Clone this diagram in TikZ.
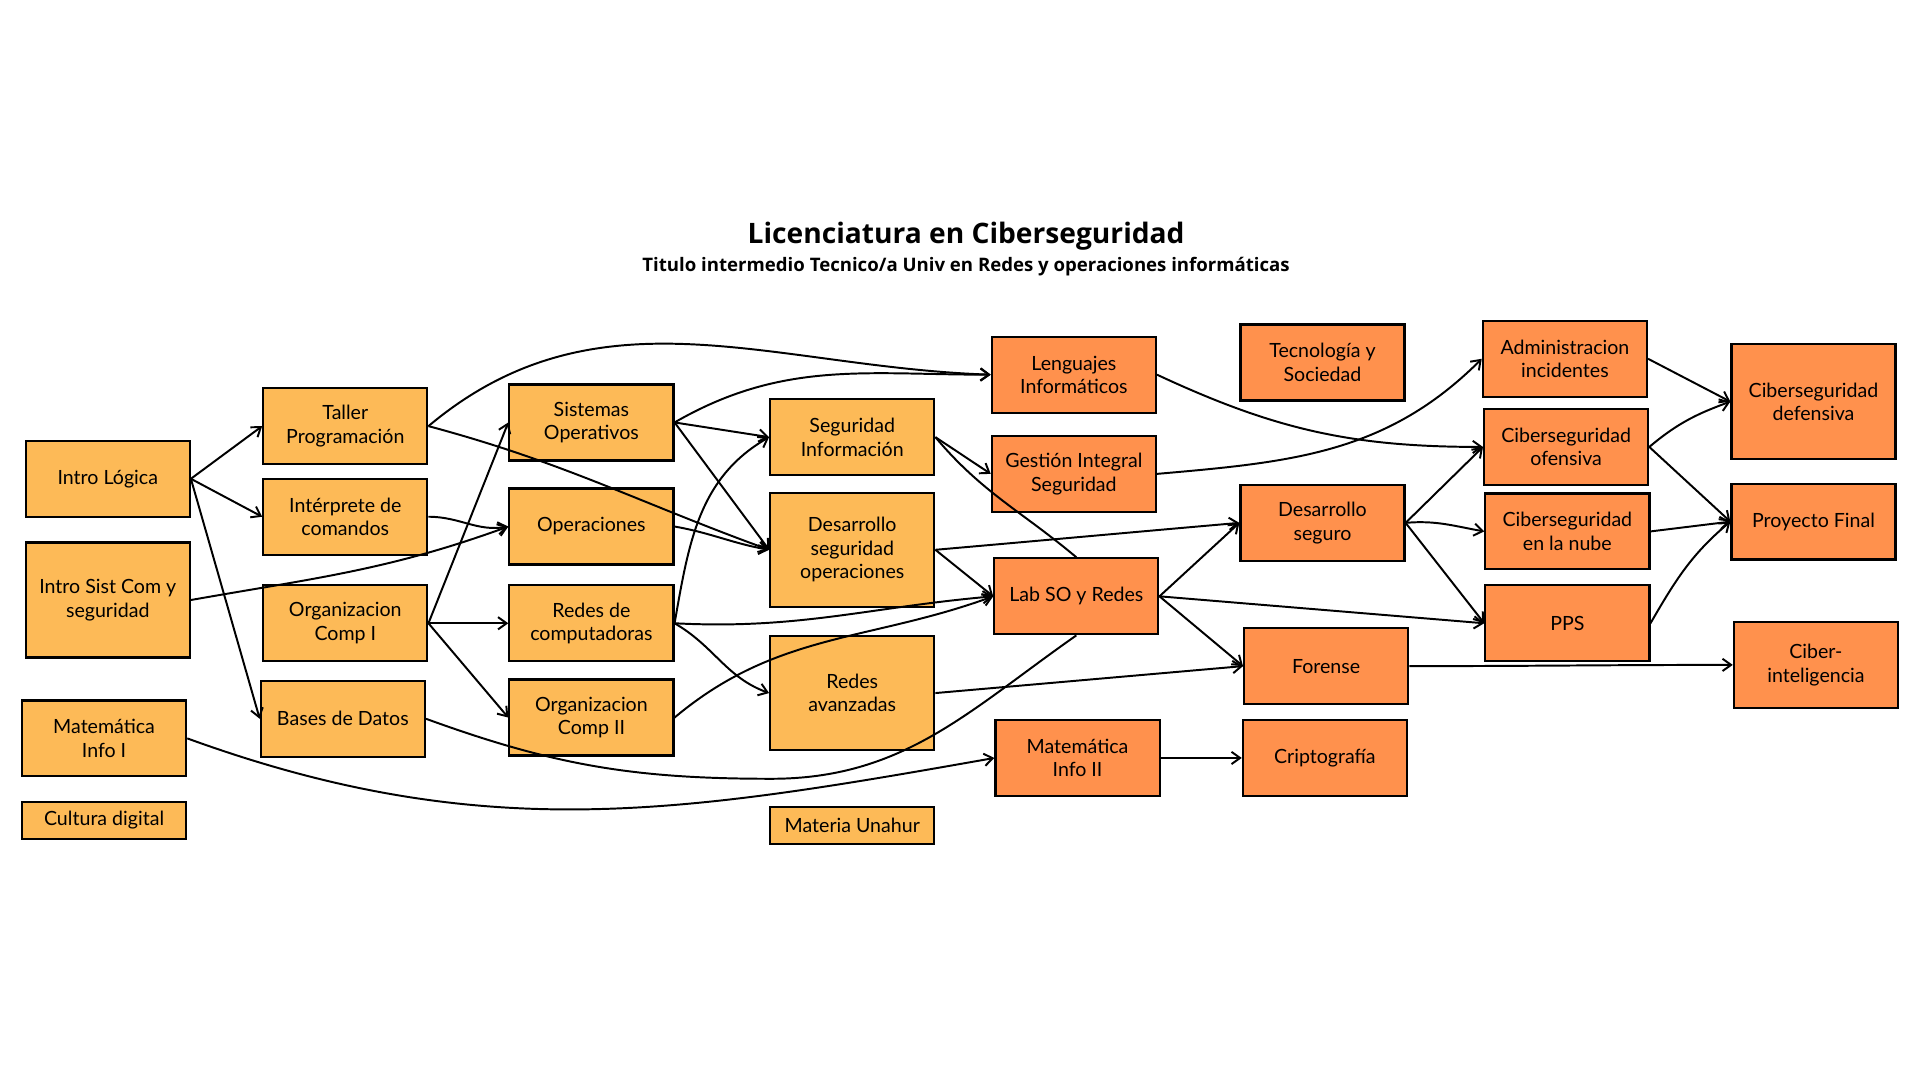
\documentclass[tikz,border=0pt]{standalone}
\usepackage{fontspec}
\setmainfont{Lato}
\newfontfamily\titlefont{Open Sans}
\usetikzlibrary{arrows.meta}
\definecolor{yel}{HTML}{FDBA57}
\definecolor{ora}{HTML}{FF914D}
\begin{document}
\begin{tikzpicture}[x=0.5pt,y=-0.5pt,
  bx/.style={draw=black,line width=0.9pt,align=center,inner sep=1pt,minimum width=67pt,minimum height=31pt,font=\fontsize{8}{9.6}\selectfont},
  yb/.style={bx,fill=yel},
  ob/.style={bx,fill=ora},
  ar/.style={-{Straight Barb[length=3.5pt,width=5pt]},line width=0.8pt},
  ln/.style={line width=0.8pt}]
\fill[white] (0,0) rectangle (1568,882);
\node[font=\titlefont\bfseries\fontsize{11.5}{13}\selectfont] (t1) at (789,193) {Licenciatura en Ciberseguridad};
\node[font=\titlefont\bfseries\fontsize{7.6}{9}\selectfont] (t2) at (789,218) {Titulo intermedio Tecnico/a Univ en Redes y operaciones informáticas};
% column 1
\node[yb] (il) at (88,391) {Intro Lógica};
\node[yb,minimum height=47pt] (isc) at (88,490) {Intro Sist Com y\\seguridad};
\node[yb] (m1) at (85,603) {Matemática\\Info I};
\node[yb,minimum height=15pt] (cd) at (85,670) {Cultura digital};
% column 2
\node[yb] (tp) at (282,348) {Taller\\Programación};
\node[yb] (ic) at (282,422) {Intérprete de\\comandos};
\node[yb] (oc1) at (282,509) {Organizacion\\Comp I};
\node[yb] (bd) at (280,587) {Bases de Datos};
% column 3
\node[yb] (so) at (483,345) {Sistemas\\Operativos};
\node[yb] (op) at (483,430) {Operaciones};
\node[yb] (rc) at (483,509) {Redes de\\computadoras};
\node[yb] (oc2) at (483,586) {Organizacion\\Comp II};
% column 4
\node[yb] (si) at (696,357) {Seguridad\\Información};
\node[yb,minimum height=46.5pt] (dso) at (696,449) {Desarrollo\\seguridad\\operaciones};
\node[yb,minimum height=46.5pt] (ra) at (696,566) {Redes\\avanzadas};
\node[yb,minimum height=15pt] (mu) at (696,674) {Materia Unahur};
% column 5
\node[ob] (li) at (877,306) {Lenguajes\\Informáticos};
\node[ob] (gi) at (877,387) {Gestión Integral\\Seguridad};
\node[ob] (lab) at (879,487) {Lab SO y Redes};
\node[ob] (m2) at (880,619) {Matemática\\Info II};
% column 6
\node[ob] (ts) at (1080,296) {Tecnología y\\Sociedad};
\node[ob] (ds) at (1080,427) {Desarrollo\\seguro};
\node[ob] (fo) at (1083,544) {Forense};
\node[ob] (cr) at (1082,619) {Criptografía};
% column 7
\node[ob] (ai) at (1278,293) {Administracion\\incidentes};
\node[ob] (co) at (1279,365) {Ciberseguridad\\ofensiva};
\node[ob] (cn) at (1280,434) {Ciberseguridad\\en la nube};
\node[ob] (pps) at (1280,509) {PPS};
% column 8
\node[ob,minimum height=47pt] (cde) at (1481,328) {Ciberseguridad\\defensiva};
\node[ob] (pf) at (1481,426) {Proyecto Final};
\node[ob,minimum height=35pt] (ci) at (1483,543) {Ciber-\\inteligencia};
% edges
\draw[ar] (il.east) -- (tp.west);
\draw[ar] (il.east) -- (ic.west);
\draw[ar] (il.east) -- (bd.west);
\draw[ar] (isc.east) to[out=10,in=200] (op.west);
\draw[ar] (ic.east) to[out=0,in=190] (op.west);
\draw[ar] (tp.east) to[out=40,in=178] (li.west);
\draw[ar] (tp.east) to[out=-15,in=160] (dso.west);
\draw[ar] (oc1.east) -- (so.west);
\draw[ar] (oc1.east) -- (rc.west);
\draw[ar] (oc1.east) -- (oc2.west);
\draw[ar] (so.east) to[out=30,in=180] (li.west);
\draw[ar] (so.east) -- (si.west);
\draw[ar] (so.east) -- (dso.west);
\draw[ar] (op.east) to[out=-10,in=170] (dso.west);
\draw[ln] (bd.east) to[out=-20,in=180] (630,636) to[out=0,in=-145] (lab.south);
\draw[ar] (rc.east) to[out=-3,in=185] (lab.west);
\draw[ar] (rc.east) to[out=-30,in=160] (ra.west);
\draw[ar] (rc.east) to[out=80,in=210] (si.west);
\draw[ar] (oc2.east) to[out=40,in=200] (lab.west);
\draw[ar] (si.east) -- (gi.west);
\draw[ln] (si.east) to[out=-50,in=140] (lab.north);
\draw[ar] (dso.east) to[out=5,in=185] (ds.west);
\draw[ar] (dso.east) -- (lab.west);
\draw[ar] (ra.east) to[out=5,in=185] (fo.west);
\draw[ar] (m1.east) to[out=-20,in=190] (m2.west);
\draw[ar] (lab.east) -- (ds.west);
\draw[ar] (lab.east) -- (pps.west);
\draw[ar] (lab.east) -- (fo.west);
\draw[ar] (m2.east) -- (cr.west);
\draw[ar] (gi.east) to[out=5,in=225] (ai.west);
\draw[ar] (li.east) to[out=-25,in=180] (co.west);
\draw[ar] (ds.east) -- (co.west);
\draw[ar] (ds.east) to[out=5,in=170] (cn.west);
\draw[ar] (ds.east) -- (pps.west);
\draw[ar] (ai.east) -- (cde.west);
\draw[ar] (co.east) to[out=40,in=200] (cde.west);
\draw[ar] (co.east) -- (pf.west);
\draw[ar] (cn.east) -- (pf.west);
\draw[ar] (pps.east) to[out=60,in=220] (pf.west);
\draw[ar] (fo.east) to[out=0,in=180] (ci.west);
\end{tikzpicture}
\end{document}
